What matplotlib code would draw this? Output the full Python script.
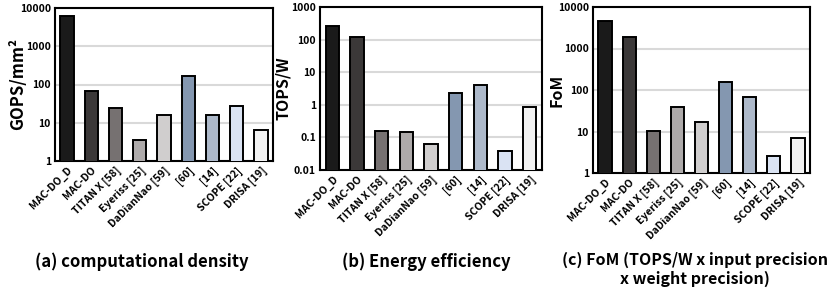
import matplotlib
matplotlib.use("Agg")
import matplotlib.pyplot as plt
from matplotlib.ticker import FixedLocator, NullLocator

plt.rcParams['font.family'] = ['Noto Sans CJK KR', 'DejaVu Sans']
plt.rcParams['font.weight'] = 'bold'

categories = ["MAC-DO_D", "MAC-DO", "TITAN X [58]", "Eyeriss [25]", "DaDianNao [59]",
              "[60]", "[14]", "SCOPE [22]", "DRISA [19]"]
density = [6300, 69, 24.6, 3.5, 15.5, 162, 16.2, 26.7, 6.6]
efficiency = [265, 123, 0.16, 0.15, 0.063, 2.3, 4.1, 0.039, 0.85]
fom = [4500, 1900, 10.3, 40, 17, 159, 67, 2.5, 6.9]
colors = ["#1a1a1a", "#3b3838", "#767171", "#aeaaaa", "#d0cece",
          "#8497b0", "#adb9ca", "#dae3f3", "#f2f2f2"]

W, H = 830, 289
fig = plt.figure(figsize=(W / 100, H / 100), dpi=100)


def make_ax(l, r, t, b):
    return fig.add_axes([l / W, 1 - b / H, (r - l) / W, (b - t) / H])


panels = [
    dict(box=(55, 273, 8, 161), vals=density, ylim=(1, 10000),
         ticks=[1, 10, 100, 1000, 10000], labels=["1", "10", "100", "1000", "10000"],
         ylabel="GOPS/mm²", ylx=18, ylfs=12,
         cap="(a) computational density", capx=142, capy=262, capfs=12),
    dict(box=(320, 542, 7, 170), vals=efficiency, ylim=(0.01, 1000),
         ticks=[0.01, 0.1, 1, 10, 100, 1000], labels=["0.01", "0.1", "1", "10", "100", "1000"],
         ylabel="TOPS/W", ylx=283, ylfs=11.5,
         cap="(b) Energy efficiency", capx=426, capy=262, capfs=12),
    dict(box=(593, 810, 7, 173), vals=fom, ylim=(1, 10000),
         ticks=[1, 10, 100, 1000, 10000], labels=["1", "10", "100", "1000", "10000"],
         ylabel="FoM", ylx=556, ylfs=11.5,
         cap="(c) FoM (TOPS/W x input precision\nx weight precision)", capx=695, capy=269,
         capfs=11.5),
]

for p in panels:
    l, r, t, b = p["box"]
    ax = make_ax(l, r, t, b)
    x = list(range(len(categories)))
    ax.bar(x, p["vals"], width=0.55, color=colors, edgecolor="black", linewidth=1.4, zorder=3)
    ax.set_yscale("log")
    ax.set_ylim(*p["ylim"])
    ax.set_xlim(-0.5, len(categories) - 0.5)
    ax.yaxis.set_major_locator(FixedLocator(p["ticks"]))
    ax.yaxis.set_minor_locator(NullLocator())
    ax.set_yticklabels(p["labels"], fontsize=7.5, fontweight="bold")
    ax.set_xticks(x)
    ax.set_xticklabels(categories, rotation=45, ha="right", rotation_mode="anchor",
                       fontsize=7.5, fontweight="bold")
    ax.tick_params(axis="both", length=0, pad=3)
    ax.grid(axis="y", color="#d9d9d9", linewidth=1.5, zorder=0)
    for s in ax.spines.values():
        s.set_linewidth(1.5)
        s.set_color("black")
    fig.text(p["ylx"] / W, 1 - ((t + b) / 2) / H, p["ylabel"], rotation=90,
             ha="center", va="center", fontsize=p["ylfs"], fontweight="bold")
    fig.text(p["capx"] / W, 1 - p["capy"] / H, p["cap"], ha="center", va="center",
             fontsize=p["capfs"], fontweight="bold", linespacing=1.2)

fig.savefig("out.png", dpi=100)
